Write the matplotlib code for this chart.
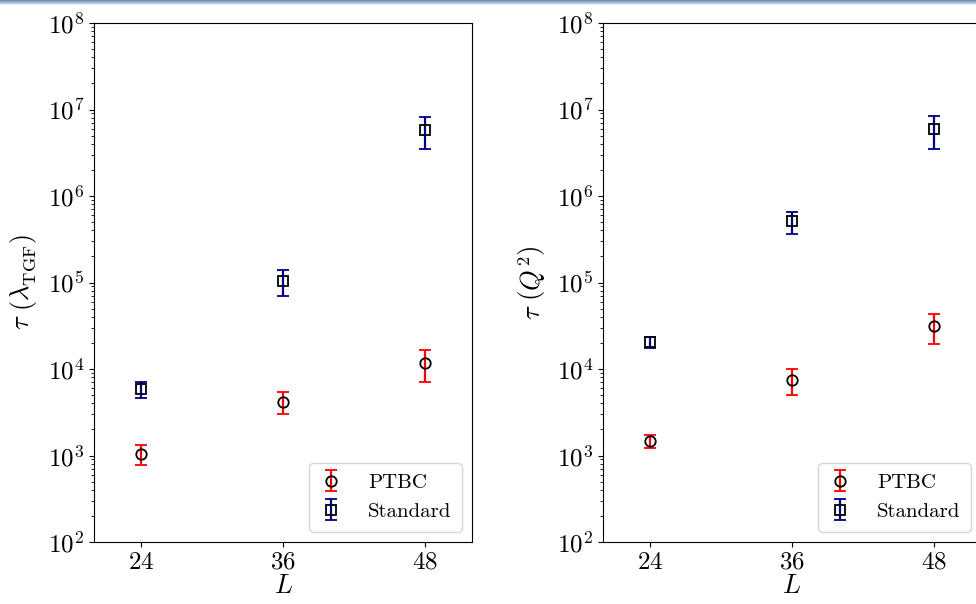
import numpy as np
import matplotlib
matplotlib.use("Agg")
import matplotlib.pyplot as plt

plt.rcParams['font.family'] = 'serif'
plt.rcParams['font.serif'] = ['cmr10', 'DejaVu Serif']
plt.rcParams['mathtext.fontset'] = 'cm'
plt.rcParams['axes.formatter.use_mathtext'] = True
plt.rcParams['axes.unicode_minus'] = False

# lattice sizes
L = [24, 36, 48]

# autocorrelation time of lambda_TGF
tgf_ptbc = [1050, 4200, 11800]
tgf_ptbc_err = [270, 1150, 4800]
tgf_std = [5800, 1.04e5, 5.8e6]
tgf_std_err = [1200, 3.5e4, 2.3e6]

# autocorrelation time of Q^2
q2_ptbc = [1470, 7470, 31600]
q2_ptbc_err = [250, 2500, 12000]
q2_std = [2.05e4, 5.1e5, 5.9e6]
q2_std_err = [2800, 1.5e5, 2.4e6]

W, H = 976, 604
fig = plt.figure(figsize=(W / 100, H / 100), dpi=100)

# thin header strip across the top
band = fig.add_axes([0, 1 - 6 / H, 1, 6 / H])
grad = np.linspace(0, 1, 6).reshape(-1, 1)
band.imshow(grad, aspect='auto', cmap=matplotlib.colors.LinearSegmentedColormap.from_list(
    'hdr', ['#6a8db5', '#ffffff']), extent=[0, 1, 0, 1])
band.axis('off')

ax_l = fig.add_axes([94 / W, (H - 542) / H, 378 / W, 519 / H])
ax_r = fig.add_axes([603 / W, (H - 542) / H, 378 / W, 519 / H])


def draw_panel(ax, ptbc, ptbc_err, std, std_err, ylabel):
    ax.errorbar(L, ptbc, yerr=ptbc_err, fmt='o', mfc='none', mec='black', mew=1.3,
                ms=7.5, ecolor='#ff0000', elinewidth=1.6, capsize=4.5, capthick=1.6,
                label='PTBC')
    ax.errorbar(L, std, yerr=std_err, fmt='s', mfc='none', mec='black', mew=1.3,
                ms=7, ecolor='#00008b', elinewidth=1.6, capsize=4.5, capthick=1.6,
                label='Standard')
    ax.set_yscale('log')
    ax.set_ylim(1e2, 1e8)
    ax.set_xlim(20, 52)
    ax.set_xticks(L)
    ax.tick_params(labelsize=18)
    ax.set_xlabel('$L$', fontsize=19, labelpad=0)
    ax.set_ylabel(ylabel, fontsize=19, labelpad=6)
    leg = ax.legend(loc='lower right', fontsize=15, handlelength=1.1,
                    handletextpad=1.2, borderpad=0.5, labelspacing=0.5)
    leg.get_frame().set_edgecolor('#cccccc')


draw_panel(ax_l, tgf_ptbc, tgf_ptbc_err, tgf_std, tgf_std_err,
           r'$\tau\ \left(\lambda^{\ }_{\mathrm{TGF}}\right)$')
draw_panel(ax_r, q2_ptbc, q2_ptbc_err, q2_std, q2_std_err,
           r'$\tau\ \left(Q^2\right)$')

fig.savefig('out.png', dpi=100)
